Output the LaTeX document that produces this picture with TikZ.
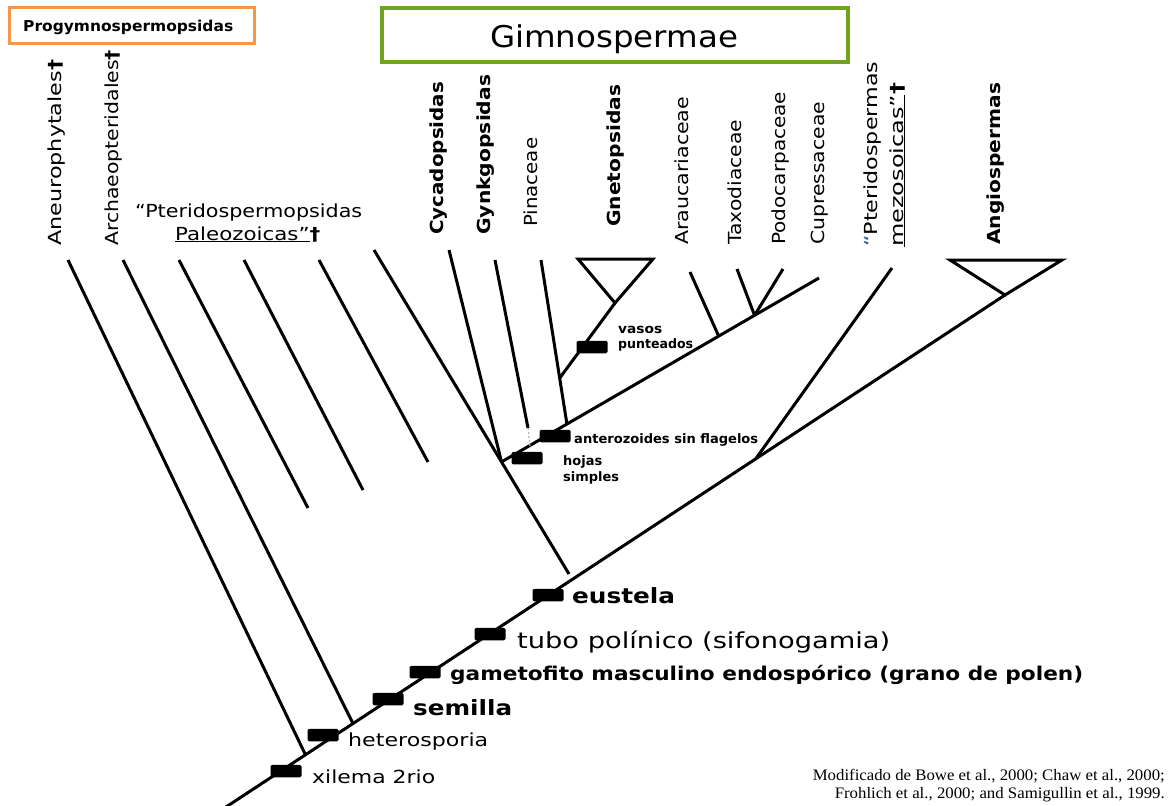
\documentclass[tikz,border=0pt]{standalone}
\usepackage{fontspec}
\setmainfont{DejaVu Sans}
\newfontfamily\citefont{Liberation Serif}
\usepackage{graphicx}
\usetikzlibrary{calc}
\definecolor{progorange}{RGB}{247,150,70}
\definecolor{gimgreen}{RGB}{112,163,32}
\definecolor{qblue}{RGB}{50,90,160}
\newcommand\fs[1]{\fontsize{#1}{#1}\selectfont}
\newcommand\fitw[2]{\resizebox{#1pt}{\height}{#2}}
\newcommand\extinct{{\bfseries †}}
\tikzset{
  br/.style={line width=3pt},
  mk/.style={fill=black, draw=none, minimum width=31pt, minimum height=12.5pt, inner sep=0pt, rounded corners=1.5pt},
  rl/.style={rotate=90, anchor=base west, inner sep=0pt, font=\fs{18}},
  rlb/.style={rotate=90, anchor=base west, inner sep=0pt, font=\bfseries\fs{18}},
  tl/.style={anchor=base west, inner sep=0pt},
  sm/.style={anchor=base west, inner sep=0pt, font=\bfseries\fs{13}},
}
\begin{document}
\begin{tikzpicture}[x=1pt,y=-1pt]
\useasboundingbox (0,0) rectangle (1176,806);
\fill[white] (0,0) rectangle (1176,806);

% ---- header boxes
\node[draw=progorange, line width=3pt, minimum width=245pt, minimum height=36pt, inner sep=0pt] (progbox) at (131.5,25) {};
\node[tl, font=\bfseries\fs{15}] (prog) at (23,31) {\fitw{210}{Progymnospermopsidas}};
\node[draw=gimgreen, line width=4pt, minimum width=466pt, minimum height=54pt, inner sep=0pt] (gimbox) at (615,35) {};
\node[anchor=base, inner sep=0pt, font=\fs{30}] (gim) at (614,47) {\fitw{248}{Gimnospermae}};

% ---- taxon labels
\node[rl] (aneu) at (61,246) {\fitw{186}{Aneurophytales\extinct}};
\node[rl] (arch) at (118,246) {\fitw{196}{Archaeopteridales\extinct}};
\node[tl, font=\fs{18}] (pal1) at (135,217) {\fitw{227}{“Pteridospermopsidas}};
\node[tl, font=\fs{18}] (pal2) at (175,240) {\fitw{145}{\underline{Paleozoicas”}\extinct}};
\node[rlb] (cyc) at (443,235) {\fitw{153}{Cycadopsidas}};
\node[rlb] (gyn) at (490,235) {\fitw{160}{Gynkgopsidas}};
\node[rl] (pin) at (537,227) {\fitw{89}{Pinaceae}};
\node[rlb] (gne) at (620,227) {\fitw{142}{Gnetopsidas}};
\node[rl] (ara) at (688,245) {\fitw{148}{Araucariaceae}};
\node[rl] (tax) at (741,245) {\fitw{125}{Taxodiaceae}};
\node[rl] (pod) at (785,245) {\fitw{153}{Podocarpaceae}};
\node[rl] (cup) at (824,245) {\fitw{143}{Cupressaceae}};
\node[rl] (mz1) at (877,247) {\fitw{185}{{\color{qblue}“}Pteridospermas}};
\node[rl] (mz2) at (903,247) {\fitw{164}{\underline{mezosoicas”}\extinct}};
\node[rlb] (ang) at (1000,245) {\fitw{162}{Angiospermas}};

% ---- tree coordinates
\coordinate (root) at (226,807);
\coordinate (angA) at (1005,295);
\coordinate (jAn) at ($(root)!0.102!(angA)$);
\coordinate (jAr) at ($(root)!0.163!(angA)$);
\coordinate (jMz) at ($(root)!0.680!(angA)$);
\coordinate (tAn) at (68,260);
\coordinate (tAr) at (123,260);
\coordinate (tP1) at (179,260);  \coordinate (eP1) at (308,508);
\coordinate (tP2) at (244,260);  \coordinate (eP2) at (363,490);
\coordinate (tP3) at (319,260);  \coordinate (eP3) at (428,462);
\coordinate (tP4) at (374,250);  \coordinate (cyEnd) at (569,574);
\coordinate (cyJ) at ($(tP4)!0.654!(cyEnd)$);
\coordinate (tCy) at (449,250);
\coordinate (cupT) at (819,278);
\coordinate (tGy) at (495,260); \coordinate (eGy) at (528,428); \coordinate (eGy2) at (530,446);
\coordinate (tPi) at (541,260);
\coordinate (pinJ) at ($(cyJ)!0.206!(cupT)$);
\coordinate (gnJ) at ($(tPi)!0.72!(pinJ)$);
\coordinate (gnA) at (615,303);
\coordinate (gnL) at (578,259); \coordinate (gnR) at (653,259);
\coordinate (tAra) at (690,272);
\coordinate (araJ) at ($(cyJ)!0.684!(cupT)$);
\coordinate (tTax) at (737,269);
\coordinate (tPod) at (783,269);
\coordinate (taxJ) at ($(cyJ)!0.797!(cupT)$);
\coordinate (tMz) at (892,268);
\coordinate (anL) at (950,260); \coordinate (anR) at (1062,260);

% ---- branches
\draw[br] (root) -- (angA);
\draw[br] (tAn) -- (jAn);
\draw[br] (tAr) -- (jAr);
\draw[br] (tP1) -- (eP1);
\draw[br] (tP2) -- (eP2);
\draw[br] (tP3) -- (eP3);
\draw[br] (tP4) -- (cyJ) -- (cyEnd);
\draw[br] (tCy) -- (cyJ);
\draw[br] (cyJ) -- (cupT);
\draw[br] (tGy) -- (eGy);
\draw[line width=1.2pt, gray!60, dash pattern=on 2pt off 2pt] (eGy) -- (eGy2);
\draw[br] (tPi) -- (pinJ);
\draw[br] (gnJ) -- (gnA);
\draw[br, line join=miter] (gnA) -- (gnL) -- (gnR) -- cycle;
\draw[br] (tAra) -- (araJ);
\draw[br] (tTax) -- (taxJ);
\draw[br] (tPod) -- (taxJ);
\draw[br] (tMz) -- (jMz);
\draw[br, line join=miter] (angA) -- (anL) -- (anR) -- cycle;

% ---- character markers (trunk)
\node[mk] (mXil) at (286,771) {};
\node[mk] (mHet) at (323,735) {};
\node[mk] (mSem) at (388,699) {};
\node[mk] (mGam) at (425,672) {};
\node[mk] (mTub) at (490,634) {};
\node[mk] (mEus) at (548,595) {};
% ---- character markers (upper)
\node[mk] (mHoj) at (527,458) {};
\node[mk] (mAnt) at (555,436) {};
\node[mk] (mVas) at (592,347) {};

% ---- character labels
\node[tl, font=\fs{18}] (lXil) at (312,783) {\fitw{123}{xilema 2rio}};
\node[tl, font=\fs{18}] (lHet) at (348,746) {\fitw{140}{heterosporia}};
\node[tl, font=\bfseries\fs{21}] (lSem) at (413,715) {\fitw{99}{semilla}};
\node[tl, font=\bfseries\fs{19}] (lGam) at (450,680) {\fitw{633}{gametofito masculino endospórico (grano de polen)}};
\node[tl, font=\fs{22}] (lTub) at (517,648) {\fitw{373}{tubo polínico (sifonogamia)}};
\node[tl, font=\bfseries\fs{21}] (lEus) at (572,603) {\fitw{103}{eustela}};
\node[sm] (lVas1) at (618,333) {\fitw{44}{vasos}};
\node[sm] (lVas2) at (618,348) {\fitw{75}{punteados}};
\node[sm] (lAnt) at (574,443) {\fitw{184}{anterozoides sin flagelos}};
\node[sm] (lHoj1) at (563,465) {\fitw{39}{hojas}};
\node[sm] (lHoj2) at (563,481) {\fitw{56}{simples}};

% ---- citation
\node[anchor=base east, inner sep=0pt, font=\citefont\fs{16}] (cit1) at (1165,780) {\fitw{352}{Modificado de Bowe et al., 2000; Chaw et al., 2000;}};
\node[anchor=base east, inner sep=0pt, font=\citefont\fs{16}] (cit2) at (1165,798) {\fitw{330}{Frohlich et al., 2000; and Samigullin et al., 1999.}};
\end{tikzpicture}
\end{document}
